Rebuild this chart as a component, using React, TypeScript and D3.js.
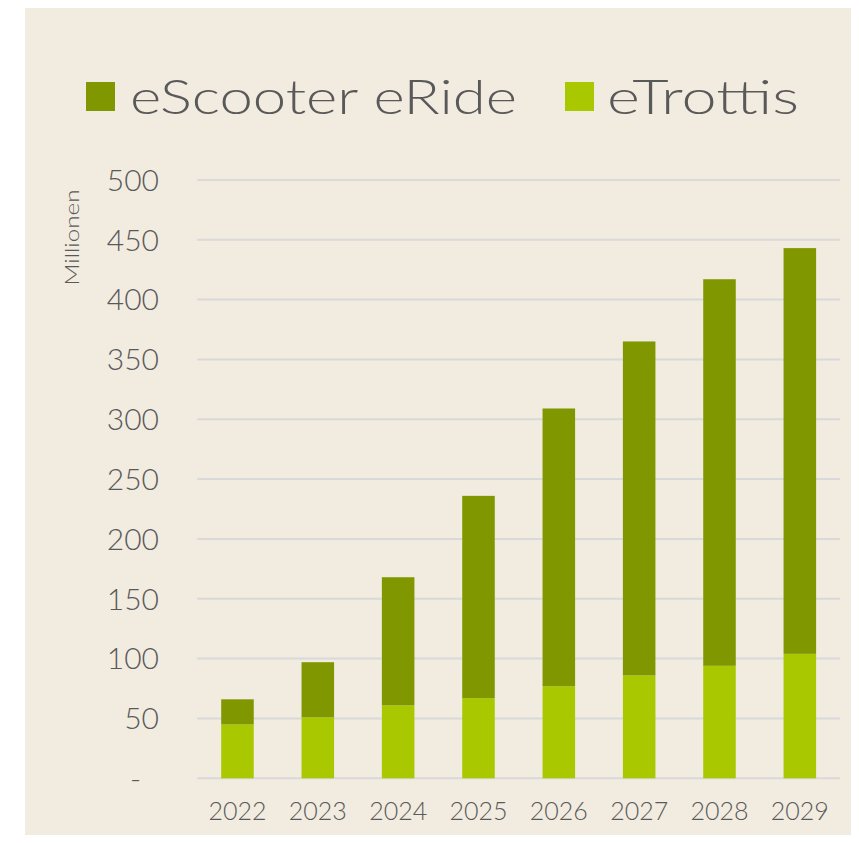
import React from "react";
import * as d3 from "d3";

const years = ["2022", "2023", "2024", "2025", "2026", "2027", "2028", "2029"];
const eTrottis = [45, 51, 61, 67, 77, 86, 94, 104];
const totals = [66, 97, 168, 236, 309, 365, 417, 443];
const eScooter = totals.map((t, i) => t - eTrottis[i]);
const yTicks = [0, 50, 100, 150, 200, 250, 300, 350, 400, 450, 500];
const seriesNames = ["eScooter eRide", "eTrottis"];

const W = 859;
const H = 843;
const BG = "#f1ebe0";
const DARK = "#809700";
const LIGHT = "#a9c800";
const TEXT = "#595959";
const FONT = "Lato, 'Open Sans', sans-serif";
const FW = 300;

export default function App() {
  const x = d3.scaleBand<string>().domain(years).range([197.3, 840]).paddingInner(0.595).paddingOuter(0.2975);
  const y = d3.scaleLinear().domain([0, 500]).range([778.3, 179.9]);

  const rows = years.map((yr, i) => ({ yr, eTrottis: eTrottis[i], eScooter: eScooter[i] }));
  const stack = d3.stack<any>().keys(["eTrottis", "eScooter"])(rows);
  const colors: Record<string, string> = { eTrottis: LIGHT, eScooter: DARK };

  return (
    <div style={{ margin: -8 }}>
      <svg width={W} height={H} style={{ display: "block" }}>
        <rect x={0} y={0} width={W} height={H} fill="#ffffff" />
        <rect x={25} y={7} width={W - 25} height={842 - 7} fill={BG} />
        {yTicks.map((t) => (
          <line key={t} x1={197.3} x2={840} y1={y(t)} y2={y(t)} stroke="#d9d9d9" strokeWidth={2} />
        ))}
        {stack.map((s) =>
          s.map((d, i) => (
            <rect
              key={s.key + i}
              x={x(years[i])}
              width={x.bandwidth()}
              y={y(d[1])}
              height={y(d[0]) - y(d[1])}
              fill={colors[s.key]}
            />
          ))
        )}
        {yTicks.map((t) => (
          <text
            key={"l" + t}
            x={t === 0 ? 141 : 159}
            y={y(t)}
            dy="0.36em"
            textAnchor="end"
            fontFamily={FONT}
            fontWeight={FW}
            fontSize={30}
            fill={TEXT}
          >
            {t === 0 ? "-" : t}
          </text>
        ))}
        {years.map((yr) => (
          <text
            key={"x" + yr}
            x={(x(yr) as number) + x.bandwidth() / 2}
            y={811}
            dy="0.36em"
            textAnchor="middle"
            fontFamily={FONT}
            fontWeight={FW}
            fontSize={25}
            fill={TEXT}
          >
            {yr}
          </text>
        ))}
        <text
          transform="translate(79,237.5) rotate(-90)"
          textAnchor="middle"
          fontFamily={FONT}
          fontWeight={FW}
          fontSize={19}
          fill={TEXT}
          textLength={96}
          lengthAdjust="spacingAndGlyphs"
        >
          Millionen
        </text>
        <rect x={86} y={82} width={29} height={29} fill={DARK} />
        <text x={130} y={114} fontFamily={FONT} fontWeight={FW} fontSize={47} fill={TEXT} textLength={387} lengthAdjust="spacingAndGlyphs">
          {seriesNames[0]}
        </text>
        <rect x={565} y={82} width={29} height={29} fill={LIGHT} />
        <text x={607} y={114} fontFamily={FONT} fontWeight={FW} fontSize={47} fill={TEXT} textLength={192} lengthAdjust="spacingAndGlyphs">
          {seriesNames[1]}
        </text>
      </svg>
    </div>
  );
}
